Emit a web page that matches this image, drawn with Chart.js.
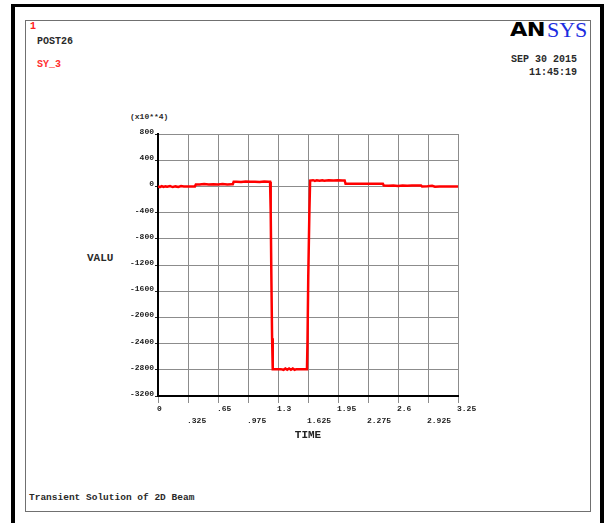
<!DOCTYPE html>
<html><head><meta charset="utf-8">
<script src="https://cdn.jsdelivr.net/npm/chart.js@4/dist/chart.umd.min.js"></script>
<style>
html,body{margin:0;padding:0;background:#fff;width:607px;height:523px;overflow:hidden;}
#outer{position:absolute;left:11px;top:4px;width:585px;height:540px;border-left:4px solid #000;border-right:4px solid #000;border-top:3px solid #000;}
#inner{position:absolute;left:25px;top:20px;width:564px;height:490px;border:1px solid #707070;}
.t{position:absolute;font-family:"Liberation Mono",monospace;white-space:nowrap;color:#2a2a2a;}
#c{position:absolute;left:0;top:0;}
</style></head>
<body>
<div id="outer"></div>
<div id="inner"></div>
<div class="t" style="left:30px;top:22px;font-size:10px;line-height:10px;font-weight:bold;color:#ff2020;">1</div>
<div class="t" style="left:37px;top:37px;font-size:10px;line-height:10px;font-weight:bold;">POST26</div>
<div class="t" style="left:37px;top:60px;font-size:10px;line-height:10px;font-weight:bold;color:#ff3030;">SY_3</div>
<div class="t" style="left:510px;top:20px;font-family:'DejaVu Sans',sans-serif;font-size:19.5px;line-height:20px;font-weight:bold;color:#000;transform:scaleX(1.15);transform-origin:left top;letter-spacing:-0.5px;">AN</div>
<div class="t" style="left:547px;top:18.6px;font-family:'Liberation Serif',serif;font-size:22px;line-height:22px;color:#1c2ee0;">SYS</div>
<div class="t" style="right:30px;top:55px;font-size:10px;line-height:10px;font-weight:bold;">SEP 30 2015</div>
<div class="t" style="right:30px;top:68px;font-size:10px;line-height:10px;font-weight:bold;">11:45:19</div>
<div class="t" style="left:130px;top:113px;font-size:8px;line-height:8px;font-weight:bold;">(x10**4)</div>
<div class="t" style="left:87px;top:253px;font-size:11px;line-height:11px;font-weight:bold;">VALU</div>
<div class="t" style="left:29px;top:493px;font-size:9.5px;line-height:10px;font-weight:bold;">Transient Solution of 2D Beam</div>
<canvas id="c" width="607" height="523"></canvas>
<script>
// time (s)
const timeVals = [
  0, 0.02, 0.04, 0.06, 0.08, 0.10, 0.13, 0.16, 0.19, 0.22, 0.25, 0.28, 0.33, 0.38, 0.400,
  0.410, 0.45, 0.50, 0.55, 0.60, 0.65, 0.70, 0.75, 0.80, 0.810,
  0.820, 0.85, 0.90, 0.95, 1.00, 1.05, 1.10, 1.15, 1.20, 1.214,
  1.221, 1.228, 1.236, 1.243,
  1.28, 1.33, 1.36, 1.38, 1.40, 1.42, 1.44, 1.46, 1.48, 1.50, 1.55, 1.60, 1.614,
  1.620, 1.628, 1.640, 1.648,
  1.68, 1.70, 1.72, 1.75, 1.78, 1.80, 1.85, 1.90, 1.95, 2.00, 2.022,
  2.032, 2.10, 2.20, 2.30, 2.40, 2.436,
  2.446, 2.50, 2.55, 2.60, 2.65, 2.70, 2.75, 2.80, 2.850,
  2.860, 2.92, 2.97, 3.00, 3.05, 3.10, 3.20, 3.25
];
// SY_3 value (x10**4)
const syVals = [
  0, -10, 5, -8, 0, -5, 5, -10, 0, -8, 5, 0, 0, 0, 0,
  30, 28, 35, 30, 32, 28, 35, 30, 32, 32,
  70, 72, 68, 75, 70, 72, 68, 75, 70, 70,
  -390, -1360, -2320, -2790,
  -2790, -2790, -2800, -2780, -2800, -2780, -2800, -2780, -2800, -2790, -2790, -2790, -2790,
  -2330, -1360, -390, 90,
  95, 85, 95, 88, 95, 88, 92, 90, 92, 90, 90,
  40, 42, 40, 40, 40, 40,
  12, 10, 15, 5, 12, 10, 12, 12, 12,
  0, 2, 10, -5, 0, 0, 0, 0
];
const xTickValues = [0, 0.325, 0.65, 0.975, 1.3, 1.625, 1.95, 2.275, 2.6, 2.925, 3.25];
const xTickLabels = ['0', '.325', '.65', '.975', '1.3', '1.625', '1.95', '2.275', '2.6', '2.925', '3.25'];
const yTickValues = [-3200, -2800, -2400, -2000, -1600, -1200, -800, -400, 0, 400, 800];
const yTickLabels = ['-3200', '-2800', '-2400', '-2000', '-1600', '-1200', '-800', '-400', '0', '400', '800'];

const points = timeVals.map((t, i) => ({x: t, y: syVals[i]}));
const tickFont = {family: 'Liberation Mono', size: 8, weight: 'bold', lineHeight: 1.5};

new Chart(document.getElementById('c'), {
  type: 'line',
  data: {datasets: [{
    data: points, borderColor: '#ff0000', borderWidth: 2.5, pointRadius: 0,
    tension: 0, fill: false
  }]},
  options: {
    responsive: false, animation: false, devicePixelRatio: 1,
    layout: {padding: {left: 0, top: 134, right: 149, bottom: 0}},
    plugins: {legend: {display: false}, tooltip: {enabled: false}},
    scales: {
      x: {
        type: 'linear', min: 0, max: 3.25,
        afterBuildTicks: s => { s.ticks = xTickValues.map(v => ({value: v})); },
        afterFit: s => { s.height = 127; },
        grid: {color: '#8c8c8c', lineWidth: 1, tickLength: 7, tickColor: '#8c8c8c'},
        border: {color: '#000', width: 2},
        ticks: {
          autoSkip: false, maxRotation: 0, minRotation: 0, padding: 0, align: 'start',
          labelOffset: -1, color: '#222', font: tickFont,
          callback: (v, i) => i % 2 === 0 ? xTickLabels[i] : ['', xTickLabels[i]]
        },
        title: {display: true, text: 'TIME', color: '#222',
          font: {family: 'Liberation Mono', size: 11, weight: 'bold'},
          padding: {top: 0, bottom: 81}}
      },
      y: {
        type: 'linear', min: -3200, max: 800,
        afterBuildTicks: s => { s.ticks = yTickValues.map(v => ({value: v})); },
        afterFit: s => { s.width = 158; },
        grid: {color: '#8c8c8c', lineWidth: 1, tickLength: 3, tickColor: '#222'},
        border: {color: '#000', width: 2},
        ticks: {padding: 1, labelOffset: -2, color: '#222', font: tickFont,
          callback: (v, i) => yTickLabels[i]}
      }
    }
  }
});
</script>
</body></html>
